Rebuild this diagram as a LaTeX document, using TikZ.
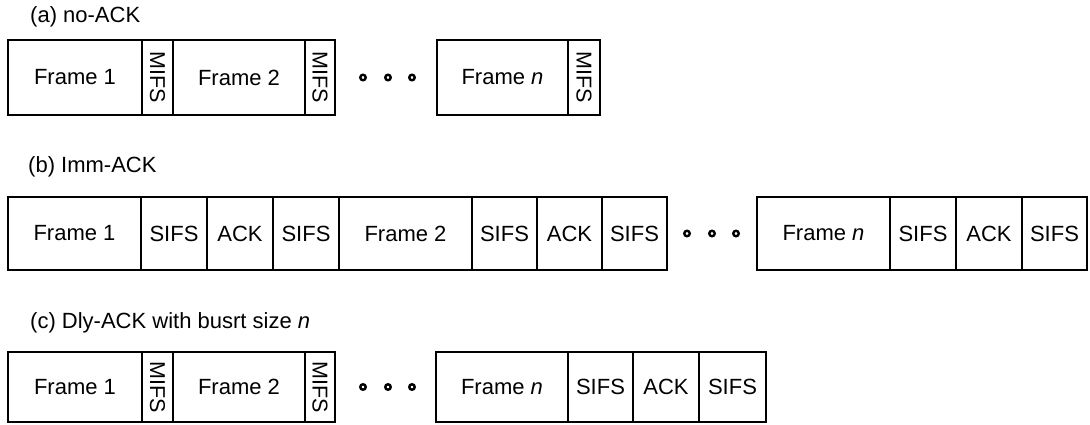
\documentclass[tikz,border=0pt]{standalone}
\usepackage{fontspec}
\setmainfont{Liberation Sans}
\begin{document}
\begin{tikzpicture}[x=1pt,y=-1pt,
  cell/.style={draw, line width=2.1pt, inner sep=0pt, outer sep=0pt, font=\fontsize{22}{26}\selectfont},
  vcell/.style={cell, rotate=-90, font=\fontsize{21.5}{24}\selectfont},
  dotc/.style={circle, draw, line width=2.4pt, minimum size=5.5pt, inner sep=0pt},
  lab/.style={anchor=west, inner sep=0pt, font=\fontsize{22}{26}\selectfont}]
\useasboundingbox (0,0) rectangle (1090,425);

% ---------- (a) no-ACK ----------
\node[lab] (la) at (30,17) {(a) no-ACK};
\node[cell, minimum width=134pt, minimum height=75pt] (a1) at (75,77.5) {Frame 1};
\node[vcell, minimum width=75pt, minimum height=31pt] (am1) at (157.5,77.5) {MIFS};
\node[cell, minimum width=132pt, minimum height=75pt] (a2) at (239,77.5) {Frame 2};
\node[vcell, minimum width=75pt, minimum height=30pt] (am2) at (320,77.5) {MIFS};
\node[dotc] (ad1) at (363,77.5) {};
\node[dotc] (ad2) at (388,77.5) {};
\node[dotc] (ad3) at (412,77.5) {};
\node[cell, minimum width=131pt, minimum height=75pt] (an) at (502.5,77.5) {Frame \textit{n}};
\node[vcell, minimum width=75pt, minimum height=32pt] (amn) at (584,77.5) {MIFS};

% ---------- (b) Imm-ACK ----------
\node[lab] (lb) at (28,167) {(b) Imm-ACK};
\node[cell, minimum width=133pt, minimum height=73pt] (b1) at (74.5,233.5) {Frame 1};
\node[cell, minimum width=66pt, minimum height=73pt] (bs1) at (174,233.5) {SIFS};
\node[cell, minimum width=66pt, minimum height=73pt] (ba1) at (240,233.5) {ACK};
\node[cell, minimum width=66pt, minimum height=73pt] (bs2) at (306,233.5) {SIFS};
\node[cell, minimum width=133pt, minimum height=73pt] (b2) at (405.5,233.5) {Frame 2};
\node[cell, minimum width=65pt, minimum height=73pt] (bs3) at (504.5,233.5) {SIFS};
\node[cell, minimum width=65pt, minimum height=73pt] (ba2) at (569.5,233.5) {ACK};
\node[cell, minimum width=65pt, minimum height=73pt] (bs4) at (634.5,233.5) {SIFS};
\node[dotc] (bd1) at (687,233.5) {};
\node[dotc] (bd2) at (712,233.5) {};
\node[dotc] (bd3) at (736,233.5) {};
\node[cell, minimum width=133pt, minimum height=73pt] (bn) at (823.5,233.5) {Frame \textit{n}};
\node[cell, minimum width=66pt, minimum height=73pt] (bs5) at (923,233.5) {SIFS};
\node[cell, minimum width=66pt, minimum height=73pt] (ba3) at (989,233.5) {ACK};
\node[cell, minimum width=65pt, minimum height=73pt] (bs6) at (1054.5,233.5) {SIFS};

% ---------- (c) Dly-ACK ----------
\node[lab] (lc) at (30,323) {(c) Dly-ACK with busrt size \textit{n}};
\node[cell, minimum width=134pt, minimum height=70pt] (c1) at (75,387) {Frame 1};
\node[vcell, minimum width=70pt, minimum height=31pt] (cm1) at (157.5,387) {MIFS};
\node[cell, minimum width=132pt, minimum height=70pt] (c2) at (239,387) {Frame 2};
\node[vcell, minimum width=70pt, minimum height=30pt] (cm2) at (320,387) {MIFS};
\node[dotc] (cd1) at (363,387) {};
\node[dotc] (cd2) at (388,387) {};
\node[dotc] (cd3) at (412,387) {};
\node[cell, minimum width=132pt, minimum height=70pt] (cn) at (502,387) {Frame \textit{n}};
\node[cell, minimum width=65pt, minimum height=70pt] (cs1) at (600.5,387) {SIFS};
\node[cell, minimum width=66pt, minimum height=70pt] (ca1) at (666,387) {ACK};
\node[cell, minimum width=67pt, minimum height=70pt] (cs2) at (732.5,387) {SIFS};
\end{tikzpicture}
\end{document}
